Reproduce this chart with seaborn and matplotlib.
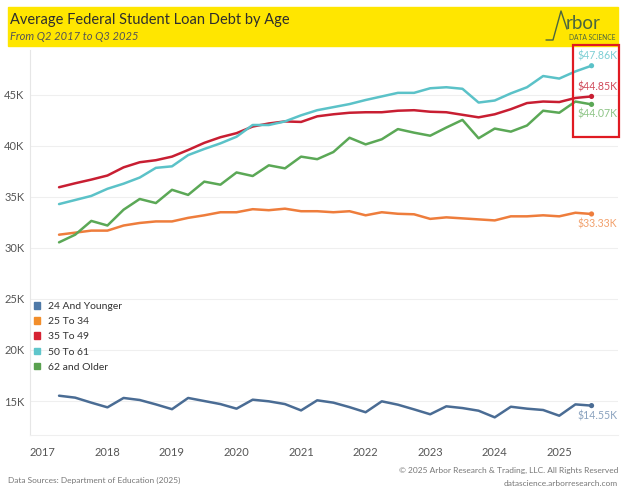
import numpy as np
import pandas as pd
import matplotlib.pyplot as plt
import matplotlib.patches as mpatches
from matplotlib.lines import Line2D
import seaborn as sns

sns.set_style("white")
plt.rcParams["font.family"] = ["Lato", "DejaVu Sans"]

# quarterly data, Q2 2017 .. Q3 2025 (values in $K)
quarters = pd.period_range("2017Q2", "2025Q3", freq="Q")

age_groups = ["24 And Younger", "25 To 34", "35 To 49", "50 To 61", "62 and Older"]

debt_24_younger = [15.52, 15.33, 14.84, 14.38, 15.30, 15.10, 14.67, 14.20, 15.30, 15.00,
                   14.70, 14.25, 15.13, 14.97, 14.70, 14.08, 15.07, 14.84, 14.40, 13.90,
                   14.97, 14.64, 14.18, 13.70, 14.48, 14.31, 14.05, 13.40, 14.44, 14.25,
                   14.12, 13.56, 14.67, 14.55]
debt_25_34 = [31.30, 31.50, 31.70, 31.70, 32.20, 32.45, 32.60, 32.60, 32.95, 33.20,
              33.50, 33.50, 33.80, 33.70, 33.85, 33.60, 33.60, 33.50, 33.60, 33.20,
              33.50, 33.35, 33.30, 32.85, 33.00, 32.90, 32.80, 32.70, 33.10, 33.10,
              33.20, 33.10, 33.45, 33.33]
debt_35_49 = [35.95, 36.34, 36.70, 37.10, 37.90, 38.40, 38.60, 38.95, 39.60, 40.30,
              40.85, 41.25, 41.90, 42.20, 42.40, 42.35, 42.90, 43.10, 43.25, 43.30,
              43.30, 43.45, 43.50, 43.35, 43.30, 43.05, 42.80, 43.10, 43.60, 44.20,
              44.35, 44.30, 44.70, 44.85]
debt_50_61 = [34.30, 34.70, 35.10, 35.80, 36.30, 36.90, 37.85, 38.00, 39.10, 39.70,
              40.25, 40.90, 42.05, 42.05, 42.40, 43.00, 43.50, 43.80, 44.10, 44.50,
              44.85, 45.20, 45.20, 45.65, 45.75, 45.60, 44.25, 44.45, 45.15, 45.75,
              46.85, 46.60, 47.30, 47.86]
debt_62_older = [30.55, 31.30, 32.65, 32.20, 33.75, 34.80, 34.40, 35.70, 35.20, 36.50,
                 36.20, 37.40, 37.05, 38.10, 37.80, 38.95, 38.70, 39.40, 40.80, 40.15,
                 40.65, 41.65, 41.30, 41.00, 41.80, 42.55, 40.75, 41.70, 41.40, 42.00,
                 43.45, 43.25, 44.35, 44.07]

end_labels = ["$14.55K", "$33.33K", "$44.85K", "$47.86K", "$44.07K"]

line_colors = ["#4A6C94", "#EE7D3C", "#C81E32", "#5BC2C8", "#5BA856"]
legend_colors = ["#4E79A7", "#F28E2B", "#D62232", "#5FC6CB", "#59A14F"]
label_colors = ["#8AA2BE", "#F2A06B", "#D04A5A", "#7CCFD4", "#8DC486"]

series = [debt_24_younger, debt_25_34, debt_35_49, debt_50_61, debt_62_older]
t = quarters.year + (quarters.quarter - 1) / 4.0

frames = []
for name, vals in zip(age_groups, series):
    frames.append(pd.DataFrame({"t": t, "debt": np.array(vals) * 1000, "group": name}))
df = pd.concat(frames, ignore_index=True)
last = df.groupby("group", sort=False).tail(1)

W, H = 624, 499
fig = plt.figure(figsize=(W / 100, H / 100), dpi=100)


def fx(x):
    return x / W


def fy(y):
    return 1 - y / H


# yellow header
fig.patches.append(mpatches.Rectangle((fx(8), fy(46)), fx(610), (46 - 7) / H,
                                      transform=fig.transFigure, color="#FFE600", zorder=0))
fig.text(fx(10), fy(20), "Average Federal Student Loan Debt by Age", fontsize=10.5,
         color="#2E2E2E", va="center", ha="left")
fig.text(fx(10), fy(36), "From Q2 2017 to Q3 2025", fontsize=8, style="italic",
         color="#555555", va="center", ha="left")

# logo
logo_c = "#4A6640"
fig.add_artist(Line2D([fx(546), fx(553), fx(561), fx(567)],
                      [fy(40), fy(40), fy(11), fy(29)],
                      transform=fig.transFigure, color=logo_c, linewidth=1.0))
fig.text(fx(566), fy(29), "rbor", fontsize=13.5, color=logo_c, ha="left", va="baseline")
fig.text(fx(569), fy(40), "DATA SCIENCE", fontsize=4.8, color=logo_c, ha="left",
         va="baseline")

ax = fig.add_axes([fx(30), fy(435), fx(588), (435 - 50) / H])

sns.lineplot(data=df, x="t", y="debt", hue="group", hue_order=age_groups,
             palette=dict(zip(age_groups, line_colors)), linewidth=1.8,
             legend=False, ax=ax)
sns.scatterplot(data=last, x="t", y="debt", hue="group", hue_order=age_groups,
                palette=dict(zip(age_groups, line_colors)), s=14, linewidth=0,
                legend=False, ax=ax, zorder=5)

offsets = [-7.5, -7, 7, 7, -7]
for i, name in enumerate(age_groups):
    row = last[last["group"] == name].iloc[0]
    ax.annotate(end_labels[i], (row["t"], row["debt"]), xytext=(-10, offsets[i]),
                textcoords="offset points", ha="left", va="center",
                fontsize=7.6, color=label_colors[i])

ax.set_xlim(2016.8, 2025.91)
ax.set_ylim(11670, 49400)
ax.set_xticks(range(2017, 2026))
ax.set_xticklabels([str(y) for y in range(2017, 2026)])
yt = list(range(15000, 45001, 5000))
ax.set_yticks(yt)
ax.set_yticklabels([f"{v // 1000}K" for v in yt])
ax.tick_params(axis="both", length=0, labelsize=8, labelcolor="#555555")
ax.tick_params(axis="x", pad=9)
ax.tick_params(axis="y", pad=4)
ax.set_xlabel("")
ax.set_ylabel("")
ax.grid(axis="y", color="#EFEFEF", linewidth=0.8)
ax.grid(axis="x", visible=False)
for s in ["top", "right"]:
    ax.spines[s].set_visible(False)
ax.spines["left"].set_color("#E6E6E6")
ax.spines["bottom"].set_color("#EFEFEF")
ax.spines["left"].set_linewidth(0.8)
ax.spines["bottom"].set_linewidth(0.8)

handles = [mpatches.Patch(color=c) for c in legend_colors]
ax.legend(handles, age_groups, loc="upper left", bbox_to_anchor=(-0.002, 0.358),
          frameon=False, fontsize=7.5, handlelength=0.6, handleheight=0.6,
          handletextpad=0.75, labelspacing=0.58, borderpad=0, labelcolor="#333333")

# highlight box around latest values
fig.patches.append(mpatches.Rectangle((fx(573), fy(137)), fx(46), (137 - 45) / H,
                                      transform=fig.transFigure, fill=False,
                                      edgecolor="#E01A22", linewidth=1.6, zorder=10))

fig.text(fx(8), fy(480), "Data Sources: Department of Education (2025)", fontsize=6,
         color="#777777", va="center", ha="left")
fig.text(fx(618), fy(470), "\u00a9 2025 Arbor Research & Trading, LLC. All Rights Reserved",
         fontsize=6, color="#777777", va="center", ha="right")
fig.text(fx(618), fy(483), "datascience.arborresearch.com", fontsize=6,
         color="#777777", va="center", ha="right")

fig.savefig("out.png", dpi=100)
